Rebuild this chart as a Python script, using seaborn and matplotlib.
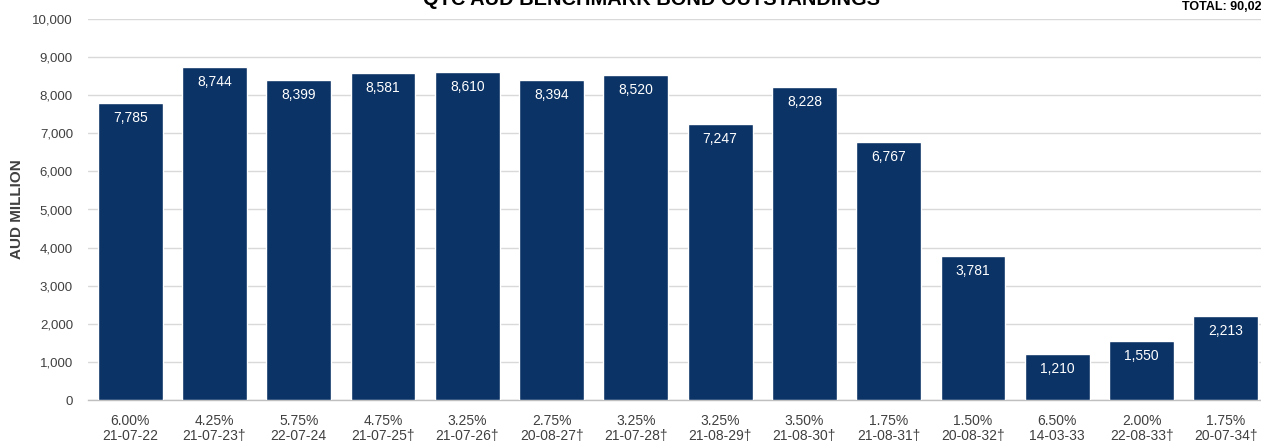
import matplotlib
matplotlib.use("Agg")
import matplotlib.pyplot as plt
import seaborn as sns
import pandas as pd
from matplotlib import font_manager

coupons = ["6.00%", "4.25%", "5.75%", "4.75%", "3.25%", "2.75%", "3.25%",
           "3.25%", "3.50%", "1.75%", "1.50%", "6.50%", "2.00%", "1.75%"]
maturities = ["21-07-22", "21-07-23†", "22-07-24", "21-07-25†", "21-07-26†",
              "20-08-27†", "21-07-28†", "21-08-29†", "21-08-30†", "21-08-31†",
              "20-08-32†", "14-03-33", "22-08-33†", "20-07-34†"]
outstanding = [7785, 8744, 8399, 8581, 8610, 8394, 8520,
               7247, 8228, 6767, 3781, 1210, 1550, 2213]
yticks = [0, 1000, 2000, 3000, 4000, 5000, 6000, 7000, 8000, 9000, 10000]
title = "QTC AUD BENCHMARK BOND OUTSTANDINGS"
total_text = "TOTAL: 90,029"
ylabel = "AUD MILLION"

labels = [f"{c}\n{m}" for c, m in zip(coupons, maturities)]
df = pd.DataFrame({"label": labels, "value": outstanding})

sns.set_theme(style="white")
avail = {f.name for f in font_manager.fontManager.ttflist}
narrow = "Liberation Sans Narrow" if "Liberation Sans Narrow" in avail else "Liberation Sans"
plt.rcParams["font.family"] = [narrow, "DejaVu Sans"]

W, H = 1261, 444
fig = plt.figure(figsize=(W / 100, H / 100), dpi=100)
ax = fig.add_axes([88 / W, (H - 400) / H, (1268 - 88) / W, (400 - 19) / H])

bar_color = "#0c3365"
sns.barplot(data=df, x="label", y="value", color=bar_color, width=0.77,
            saturation=1, ax=ax, zorder=3)

ax.set_ylim(0, 10000)
ax.set_xlim(-0.5, len(labels) - 0.5)
ax.set_yticks(yticks)
ax.set_yticklabels([f"{v:,}" for v in yticks], fontsize=9.5, color="#404040")
ax.tick_params(axis="x", labelsize=10, labelcolor="#404040", length=0, pad=10)
ax.tick_params(axis="y", length=0, pad=10.8)
for lab in ax.get_xticklabels():
    lab.set_linespacing(1.1)
ax.yaxis.grid(True, color="#d9d9d9", linewidth=1, zorder=0)
ax.set_axisbelow(True)
for s in ["top", "right", "left"]:
    ax.spines[s].set_visible(False)
ax.spines["bottom"].set_color("#bfbfbf")
ax.spines["bottom"].set_linewidth(1)
ax.set_xlabel("")
ax.set_ylabel(ylabel, fontsize=11, fontweight="bold", color="#404040",
              family="Liberation Sans", labelpad=10)
ax.yaxis.set_label_coords(-64 / (1268 - 88), 0.5)

for i, v in enumerate(outstanding):
    ax.annotate(f"{v:,}", xy=(i, v), xytext=(0, -15), textcoords="offset pixels",
                ha="center", va="center", color="white", fontsize=10, zorder=4)

fig.text(651 / W, 1 - 5 / H, title, ha="center", va="baseline",
         fontsize=14.4, fontweight="bold", family="Liberation Sans", color="#000000")
fig.text(1182 / W, 1 - 10 / H, total_text, ha="left", va="baseline",
         fontsize=9, fontweight="bold", family="Liberation Sans", color="#000000")

fig.savefig("out.png", dpi=100)
